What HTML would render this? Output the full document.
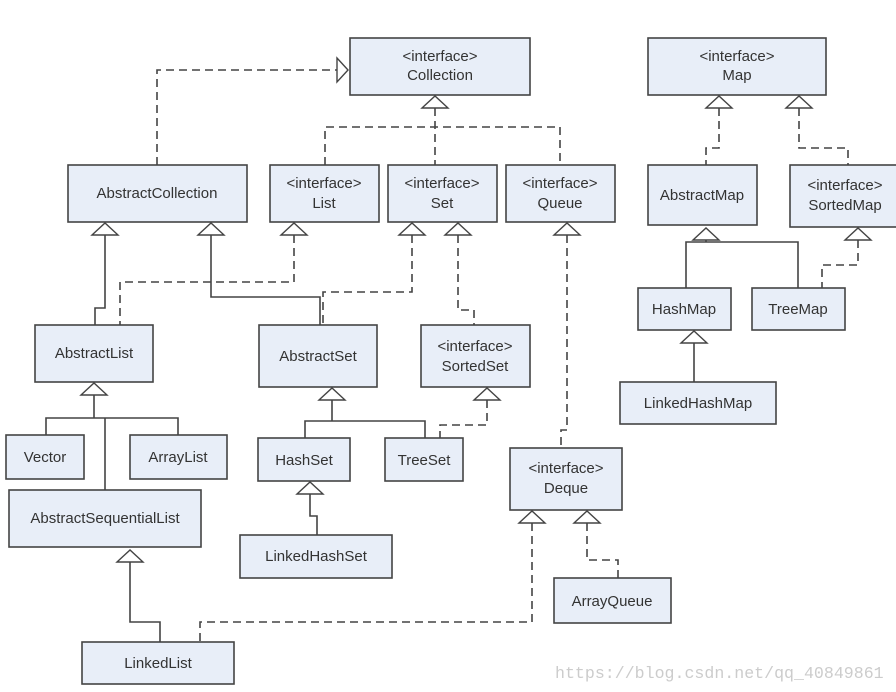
<!DOCTYPE html><html><head><style>body{margin:0;background:#fff}svg{display:block}text{font-family:"Liberation Sans",sans-serif;font-size:15px;fill:#333}</style></head><body>
<svg width="896" height="692" viewBox="0 0 896 692">
<g fill="#e8eef8" stroke="#444" stroke-width="1.6">
<rect x="350" y="38" width="180" height="57"/><rect x="648" y="38" width="178" height="57"/>
<rect x="68" y="165" width="179" height="57"/><rect x="270" y="165" width="109" height="57"/>
<rect x="388" y="165" width="109" height="57"/><rect x="506" y="165" width="109" height="57"/>
<rect x="648" y="165" width="109" height="60"/><rect x="790" y="165" width="110" height="62"/>
<rect x="35" y="325" width="118" height="57"/><rect x="259" y="325" width="118" height="62"/>
<rect x="421" y="325" width="109" height="62"/><rect x="638" y="288" width="93" height="42"/>
<rect x="752" y="288" width="93" height="42"/><rect x="620" y="382" width="156" height="42"/>
<rect x="6" y="435" width="78" height="44"/><rect x="130" y="435" width="97" height="44"/>
<rect x="258" y="438" width="92" height="43"/><rect x="385" y="438" width="78" height="43"/>
<rect x="510" y="448" width="112" height="62"/><rect x="9" y="490" width="192" height="57"/>
<rect x="240" y="535" width="152" height="43"/><rect x="554" y="578" width="117" height="45"/>
<rect x="82" y="642" width="152" height="42"/>
</g>
<g fill="none" stroke="#444" stroke-width="1.6">
<path d="M105 235V308H95V325M211 235V297H320V325M706 240V242M686 288V242H798V288M694 343V382M94 395V418M46 435V418H178V435M105 418V490M332 400V421M305 438V421H425V438M310 494V516H317V535M130 562V622H160V642"/>
</g>
<g fill="none" stroke="#444" stroke-width="1.6" stroke-dasharray="8,5">
<path d="M157 165V70H337M435 108V165M325 165V127H560V165M294 235V282H120V325M412 235V292H323V325M458 235V310H474V325M567 235V430H561V448M719 108V148H706V165M799 108V148H848V165M858 240V265H822V288M487 400V425H440V438M532 523V622H200V642M587 523V560H618V578"/>
</g>
<g fill="#fff" stroke="#444" stroke-width="1.4">
<path d="M337 58L348 70L337 82Z"/>
<path d="M422 108L435 96L448 108Z"/><path d="M706 108L719 96L732 108Z"/><path d="M786 108L799 96L812 108Z"/>
<path d="M92 235L105 223L118 235Z"/><path d="M198 235L211 223L224 235Z"/><path d="M281 235L294 223L307 235Z"/>
<path d="M399 235L412 223L425 235Z"/><path d="M445 235L458 223L471 235Z"/><path d="M554 235L567 223L580 235Z"/>
<path d="M693 240L706 228L719 240Z"/><path d="M845 240L858 228L871 240Z"/><path d="M681 343L694 331L707 343Z"/>
<path d="M81 395L94 383L107 395Z"/><path d="M319 400L332 388L345 400Z"/><path d="M474 400L487 388L500 400Z"/>
<path d="M297 494L310 482L323 494Z"/><path d="M117 562L130 550L143 562Z"/>
<path d="M519 523L532 511L545 523Z"/><path d="M574 523L587 511L600 523Z"/>
</g>
<g text-anchor="middle">
<text x="440" y="61">&lt;interface&gt;</text><text x="440" y="80">Collection</text>
<text x="737" y="61">&lt;interface&gt;</text><text x="737" y="80">Map</text>
<text x="157" y="198">AbstractCollection</text>
<text x="324" y="188">&lt;interface&gt;</text><text x="324" y="208">List</text>
<text x="442" y="188">&lt;interface&gt;</text><text x="442" y="208">Set</text>
<text x="560" y="188">&lt;interface&gt;</text><text x="560" y="208">Queue</text>
<text x="702" y="200">AbstractMap</text>
<text x="845" y="190">&lt;interface&gt;</text><text x="845" y="210">SortedMap</text>
<text x="94" y="358">AbstractList</text><text x="318" y="361">AbstractSet</text>
<text x="475" y="351">&lt;interface&gt;</text><text x="475" y="371">SortedSet</text>
<text x="684" y="314">HashMap</text><text x="798" y="314">TreeMap</text><text x="698" y="408">LinkedHashMap</text>
<text x="45" y="462">Vector</text><text x="178" y="462">ArrayList</text><text x="304" y="465">HashSet</text><text x="424" y="465">TreeSet</text>
<text x="566" y="473">&lt;interface&gt;</text><text x="566" y="493">Deque</text>
<text x="105" y="523">AbstractSequentialList</text><text x="316" y="561">LinkedHashSet</text>
<text x="612" y="606">ArrayQueue</text><text x="158" y="668">LinkedList</text>
</g>
<text x="555" y="678" style="font-family:'Liberation Mono',monospace;font-size:16.6px;fill:#ccc">https://blog.csdn.net/qq_40849861</text>
</svg></body></html>
